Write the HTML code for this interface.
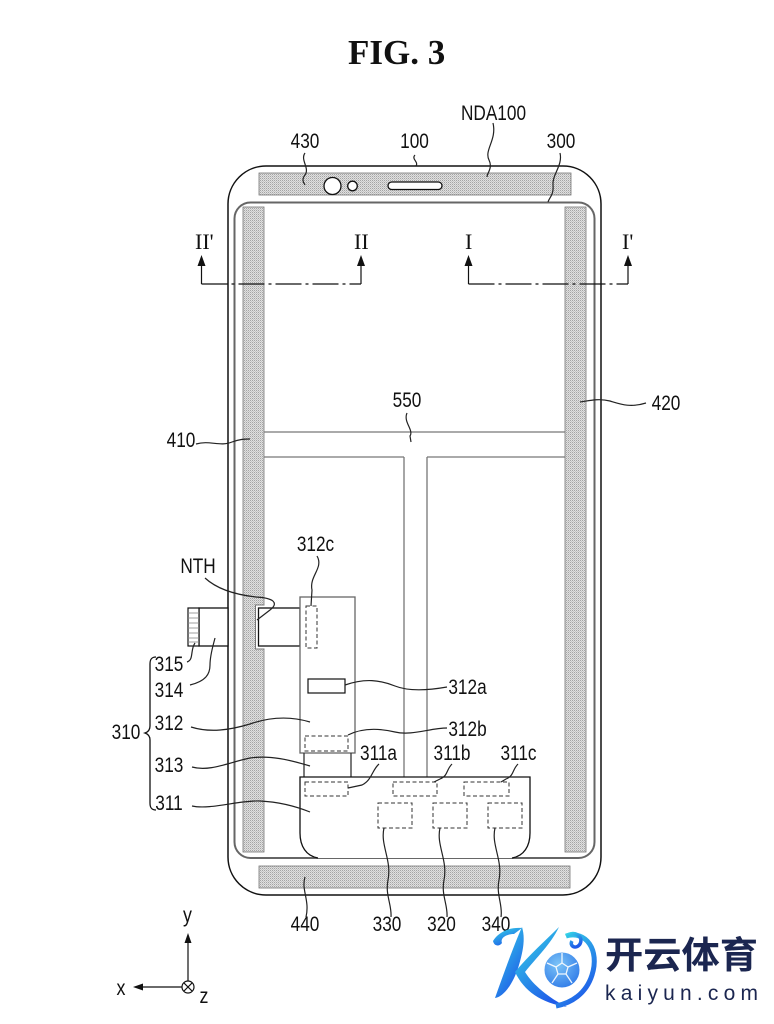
<!DOCTYPE html>
<html><head><meta charset="utf-8"><style>
html,body{margin:0;padding:0;background:#fff;}
svg{display:block;}
.t{font-family:"Liberation Sans",Arial,sans-serif;font-size:21px;fill:#111;}
.r{font-family:"Liberation Serif",serif;font-size:22px;fill:#111;}
.ld{fill:none;stroke:#222;stroke-width:1.2;}
.ds{fill:#fff;stroke:#333;stroke-width:1;stroke-dasharray:4 2.5;}
.g{fill:none;stroke:#777;stroke-width:1.3;}
</style></head><body>
<svg width="774" height="1024" viewBox="0 0 774 1024" xmlns="http://www.w3.org/2000/svg">
<defs>
<pattern id="dots" width="2" height="2" patternUnits="userSpaceOnUse">
<rect width="2" height="2" fill="#e0e0e0"/><rect width="1" height="1" fill="#a4a4a4"/><rect x="1" y="1" width="1" height="1" fill="#c4c4c4"/>
</pattern>
<linearGradient id="lg" x1="0" y1="0" x2="0.6" y2="1">
<stop offset="0" stop-color="#35d9e6"/><stop offset="1" stop-color="#1f5be9"/>
</linearGradient>
<radialGradient id="bg" cx="0.4" cy="0.35" r="0.7">
<stop offset="0" stop-color="#7cc4f7"/><stop offset="1" stop-color="#2f7ae8"/>
</radialGradient>
</defs>

<!-- Title -->
<text x="348" y="64" font-family="Liberation Serif,serif" font-weight="bold" font-size="35" fill="#111">FIG. 3</text>

<!-- outer body -->
<rect x="228" y="166" width="373" height="729" rx="38" fill="#fff" stroke="#111" stroke-width="1.5"/>
<!-- inner display line -->
<rect x="234.5" y="202.5" width="360" height="655.5" rx="16" fill="none" stroke="#666" stroke-width="2"/>

<!-- strips -->
<rect x="259" y="173" width="312" height="22" fill="url(#dots)" stroke="#777" stroke-width="0.8"/>
<rect x="259" y="866" width="311" height="22" fill="url(#dots)" stroke="#777" stroke-width="0.8"/>
<rect x="243" y="207" width="21" height="645" fill="url(#dots)" stroke="#777" stroke-width="0.8"/>
<rect x="565" y="207" width="21" height="645" fill="url(#dots)" stroke="#777" stroke-width="0.8"/>

<!-- camera / speaker -->
<circle cx="332.5" cy="186" r="8.5" fill="#fff" stroke="#111" stroke-width="1.3"/>
<circle cx="352.5" cy="186" r="4.8" fill="#fff" stroke="#111" stroke-width="1.3"/>
<rect x="388" y="182" width="54" height="7.5" rx="3.7" fill="#fff" stroke="#111" stroke-width="1.3"/>

<!-- 550 T structure -->
<line class="g" x1="264" y1="432" x2="565" y2="432"/>
<line class="g" x1="264" y1="457" x2="404" y2="457"/>
<line class="g" x1="427" y1="457" x2="565" y2="457"/>
<line class="g" x1="404" y1="457" x2="404" y2="777"/>
<line class="g" x1="427" y1="457" x2="427" y2="777"/>

<!-- notch in 410 -->
<rect x="255.5" y="605" width="9.5" height="44" fill="#fff"/>
<path d="M264.5,605 H255.5 V649 H264.5" fill="none" stroke="#777" stroke-width="1"/>

<!-- connector 314/315 -->
<rect x="258.5" y="608" width="41.5" height="38" fill="#fff" stroke="#111" stroke-width="1.3"/>
<rect x="199" y="608" width="29" height="38" fill="#fff" stroke="#111" stroke-width="1.3"/>
<rect x="188" y="608" width="11" height="38" fill="#fff" stroke="#111" stroke-width="1.2"/>
<g stroke="#888" stroke-width="0.8">
<line x1="188" y1="613" x2="199" y2="613"/><line x1="188" y1="618" x2="199" y2="618"/>
<line x1="188" y1="623" x2="199" y2="623"/><line x1="188" y1="628" x2="199" y2="628"/>
<line x1="188" y1="633" x2="199" y2="633"/><line x1="188" y1="638" x2="199" y2="638"/>
<line x1="188" y1="642" x2="199" y2="642"/>
</g>

<!-- 312 box -->
<rect x="300" y="597" width="55" height="156" fill="#fff" stroke="#666" stroke-width="1.3"/>
<!-- 313 -->
<line x1="304" y1="753" x2="304" y2="777" stroke="#333" stroke-width="1.3"/>
<line x1="351" y1="753" x2="351" y2="777" stroke="#333" stroke-width="1.3"/>
<!-- 311 box -->
<path d="M318,858 C306,856 300,846 300,833 V777 H530 V833 C530,846 524,856 512,858" fill="#fff" stroke="#111" stroke-width="1.3"/>

<!-- inner components -->
<rect class="ds" x="306" y="606" width="11" height="42"/>
<rect x="308" y="679" width="37" height="14" fill="#fff" stroke="#111" stroke-width="1.2"/>
<rect class="ds" x="305" y="736" width="43" height="15"/>
<rect class="ds" x="305" y="782" width="43" height="14"/>
<rect class="ds" x="393" y="782" width="44" height="14"/>
<rect class="ds" x="464" y="782" width="45" height="14"/>
<rect class="ds" x="378" y="803" width="34" height="25"/>
<rect class="ds" x="433" y="803" width="34" height="25"/>
<rect class="ds" x="488" y="803" width="34" height="25"/>

<!-- section lines -->
<g stroke="#111" stroke-width="1.2" fill="none">
<polyline points="201.5,266 201.5,284"/>
<polyline points="361,266 361,284"/>
<polyline points="468.5,266 468.5,284"/>
<polyline points="628,266 628,284"/>
<line x1="201.5" y1="284" x2="361" y2="284" stroke-dasharray="26 4 3 4"/>
<line x1="468.5" y1="284" x2="628" y2="284" stroke-dasharray="26 4 3 4"/>
</g>
<g fill="#111">
<polygon points="201.5,255 197.5,266 205.5,266"/>
<polygon points="361,255 357,266 365,266"/>
<polygon points="468.5,255 464.5,266 472.5,266"/>
<polygon points="628,255 624,266 632,266"/>
</g>
<text class="r" x="195" y="249">II'</text>
<text class="r" x="354" y="249">II</text>
<text class="r" x="465" y="249">I</text>
<text class="r" x="622" y="249">I'</text>

<!-- leaders -->
<path class="ld" d="M305,153 C300,160 310,168 305,175 C301,180 304,183 305,185"/>
<path class="ld" d="M415,155 C411,159 419,162 416,166"/>
<path class="ld" d="M493,123 C497,140 484,150 489,160 C493,168 487,173 487,177"/>
<path class="ld" d="M560,153 C563,165 552,175 553,185 C554,195 549,198 548,202"/>
<path class="ld" d="M407,413 C403,422 414,430 410,436 L411,442"/>
<path class="ld" d="M196,444 C210,440 220,447 232,442 C240,439 245,439 250,439"/>
<path class="ld" d="M646,403 C630,408 620,404 610,401 C598,398 588,401 580,402"/>
<path class="ld" d="M317,556 C324,568 309,576 312,590 L311,606"/>
<path class="ld" d="M205,578 C218,590 238,595 256,597 C274,598 279,603 270,610 L257,620"/>
<path class="ld" d="M187,662 C194,660 190,650 195,643"/>
<path class="ld" d="M190,685 C206,681 210,674 210,665 C210,655 213,646 215,638"/>
<path class="ld" d="M191,727 C210,733 230,730 250,724 C270,717 290,716 310,722"/>
<path class="ld" d="M192,767 C210,772 230,762 250,758 C270,755 290,760 310,766"/>
<path class="ld" d="M192,806 C210,810 240,800 260,801 C280,802 295,806 310,812"/>
<path class="ld" d="M345,685 C365,678 380,680 395,686 C410,692 430,690 447,687"/>
<path class="ld" d="M348,735 C362,728 378,728 395,732 C412,736 430,728 447,728"/>
<path class="ld" d="M379,764 C372,770 372,780 362,785 L348,788"/>
<path class="ld" d="M452,764 C446,770 448,776 440,779 L434,782"/>
<path class="ld" d="M518,764 C512,770 514,776 506,779 L501,782"/>
<path class="ld" d="M384,828 C380,845 392,860 388,880 C385,895 392,905 391,917"/>
<path class="ld" d="M440,828 C436,845 448,860 444,880 C441,895 448,905 447,917"/>
<path class="ld" d="M495,828 C491,845 503,860 499,880 C496,895 503,905 501,917"/>
<path class="ld" d="M305,877 C301,890 310,900 306,917"/>

<!-- brace 310 -->
<path d="M156,657 C151,657 150,660 150,664 V726 C150,730 148,732 145,733 C148,734 150,736 150,740 V803 C150,807 151,810 156,810" fill="none" stroke="#111" stroke-width="1.3"/>

<!-- labels -->
<g class="t">
<text transform="translate(305,148) scale(0.82,1)" text-anchor="middle">430</text>
<text transform="translate(414.5,148) scale(0.82,1)" text-anchor="middle">100</text>
<text transform="translate(493.5,120) scale(0.82,1)" text-anchor="middle">NDA100</text>
<text transform="translate(561,148) scale(0.82,1)" text-anchor="middle">300</text>
<text transform="translate(407,407) scale(0.82,1)" text-anchor="middle">550</text>
<text transform="translate(181,447) scale(0.82,1)" text-anchor="middle">410</text>
<text transform="translate(666,410) scale(0.82,1)" text-anchor="middle">420</text>
<text transform="translate(315.5,551) scale(0.82,1)" text-anchor="middle">312c</text>
<text transform="translate(198,573) scale(0.82,1)" text-anchor="middle">NTH</text>
<text transform="translate(169,671) scale(0.82,1)" text-anchor="middle">315</text>
<text transform="translate(169,697) scale(0.82,1)" text-anchor="middle">314</text>
<text transform="translate(169,730) scale(0.82,1)" text-anchor="middle">312</text>
<text transform="translate(169,772) scale(0.82,1)" text-anchor="middle">313</text>
<text transform="translate(169,810) scale(0.82,1)" text-anchor="middle">311</text>
<text transform="translate(126,739) scale(0.82,1)" text-anchor="middle">310</text>
<text transform="translate(467.5,694) scale(0.82,1)" text-anchor="middle">312a</text>
<text transform="translate(467.5,736) scale(0.82,1)" text-anchor="middle">312b</text>
<text transform="translate(378.5,760) scale(0.82,1)" text-anchor="middle">311a</text>
<text transform="translate(452,760) scale(0.82,1)" text-anchor="middle">311b</text>
<text transform="translate(518.5,760) scale(0.82,1)" text-anchor="middle">311c</text>
<text transform="translate(305,931) scale(0.82,1)" text-anchor="middle">440</text>
<text transform="translate(387,931) scale(0.82,1)" text-anchor="middle">330</text>
<text transform="translate(441.5,931) scale(0.82,1)" text-anchor="middle">320</text>
<text transform="translate(496,931) scale(0.82,1)" text-anchor="middle">340</text>
<text transform="translate(187.5,922) scale(0.85,1)" text-anchor="middle">y</text>
<text transform="translate(121,995) scale(0.85,1)" text-anchor="middle">x</text>
<text transform="translate(204,1003) scale(0.85,1)" text-anchor="middle">z</text>
</g>

<!-- axes -->
<line x1="188" y1="942" x2="188" y2="981" stroke="#111" stroke-width="1.2"/>
<polygon points="188,933 184.5,943 191.5,943" fill="#111"/>
<line x1="182" y1="987" x2="142" y2="987" stroke="#111" stroke-width="1.2"/>
<polygon points="133,987 143,983.5 143,990.5" fill="#111"/>
<circle cx="188" cy="987" r="6" fill="#fff" stroke="#111" stroke-width="1.2"/>
<path d="M183.8,982.8 L192.2,991.2 M192.2,982.8 L183.8,991.2" stroke="#111" stroke-width="1.1"/>

<!-- watermark logo -->
<g>
<path d="M522,927 C514,945 505,970 495,998 C503,997 513,985 519,965 C524,948 525,937 522,927 Z" fill="url(#lg)"/>
<path d="M522,928 C511,927 499,931 493,941 C494,946 499,947 502,943 C500,938 506,934 514,934 Z" fill="url(#lg)"/>
<path d="M559,927 C546,940 529,955 515,972 C524,991 541,1003 567,1007 C549,998 533,985 525,972 C536,958 551,944 559,927 Z" fill="url(#lg)"/>
<path d="M566,936 C586,930 600,950 592,975 C586,994 571,1003 556,1006" fill="none" stroke="url(#lg)" stroke-width="5"/>
<path d="M566,936 C574,930 584,936 580,944 C576,950 569,946 572,941" fill="none" stroke="url(#lg)" stroke-width="3.5"/>
<circle cx="562" cy="970" r="18.5" fill="url(#bg)" stroke="#fff" stroke-width="2"/>
<g fill="none" stroke="#fff" stroke-width="1.3" opacity="0.9">
<polygon points="562,963 568,967 566,974 558,974 556,967"/>
<path d="M562,963 L562,953 M568,967 L577,963 M566,974 L572,983 M558,974 L552,983 M556,967 L547,963"/>
</g>
</g>
<text x="605" y="968" font-family="'Noto Sans CJK SC','WenQuanYi Zen Hei',sans-serif" font-weight="bold" font-size="37" fill="#1b2650" textLength="153" lengthAdjust="spacingAndGlyphs">开云体育</text>
<text x="605" y="1000" font-family="'Liberation Sans',sans-serif" font-size="21" fill="#1b2650" textLength="153" lengthAdjust="spacing">kaiyun.com</text>
</svg>
</body></html>
